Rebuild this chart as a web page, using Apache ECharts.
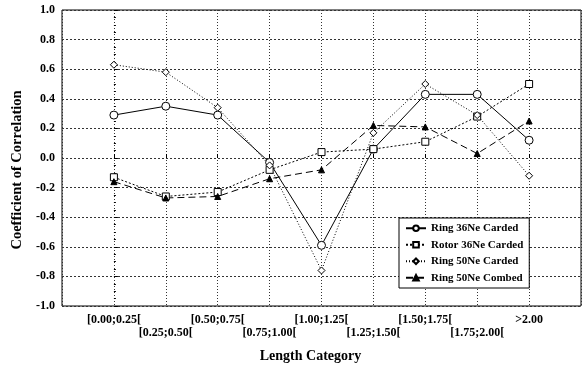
<!DOCTYPE html>
<html>
<head>
<meta charset="utf-8">
<script src="https://cdn.jsdelivr.net/npm/echarts@6/dist/echarts.min.js"></script>
<style>
  html, body { margin: 0; padding: 0; background: #fff; }
  #main { width: 586px; height: 368px; }
</style>
</head>
<body>
<div id="main"></div>
<script>
// categories and series
const categories = ['[0.00;0.25[', '[0.25;0.50[', '[0.50;0.75[', '[0.75;1.00[', '[1.00;1.25[',
  '[1.25;1.50[', '[1.50;1.75[', '[1.75;2.00[', '>2.00'];
const ring36Carded = [0.29, 0.35, 0.29, -0.03, -0.59, 0.06, 0.43, 0.43, 0.12];
const rotor36Carded = [-0.13, -0.26, -0.23, -0.08, 0.04, 0.06, 0.11, 0.28, 0.50];
const ring50Carded = [0.63, 0.58, 0.34, -0.05, -0.76, 0.17, 0.50, 0.29, -0.12];
const ring50Combed = [-0.16, -0.27, -0.26, -0.14, -0.08, 0.22, 0.21, 0.03, 0.25];
const yTicks = [-1.0, -0.8, -0.6, -0.4, -0.2, 0.0, 0.2, 0.4, 0.6, 0.8, 1.0];

const font = 'Liberation Serif';

function pts(arr) {
  return arr.map((v, i) => [i, v]);
}

function makeSeries(name, arr, symbol, size, fill, dash) {
  return {
    name: name,
    type: 'line',
    data: pts(arr),
    symbol: symbol,
    symbolSize: size,
    itemStyle: { color: fill, borderColor: '#000', borderWidth: 1 },
    lineStyle: { color: '#000', width: 1, type: dash },
    emphasis: { disabled: true },
    animation: false
  };
}

const myChart = echarts.init(document.getElementById('main'));

const option = {
  backgroundColor: '#fff',
  grid: {
    left: 62, right: 5, top: 10, bottom: 61,
    show: true, borderColor: '#000', borderWidth: 1
  },
  legend: {
    orient: 'vertical',
    left: 399, top: 218,
    backgroundColor: '#fff',
    borderColor: '#000',
    borderWidth: 1,
    padding: [4, 6, 4, 6],
    itemGap: 4,
    itemWidth: 20,
    itemHeight: 7,
    textStyle: { fontFamily: font, fontWeight: 'bold', fontSize: 11, color: '#000', lineHeight: 12.5 },
    data: ['Ring 36Ne Carded', 'Rotor 36Ne Carded', 'Ring 50Ne Carded', 'Ring 50Ne Combed']
  },
  xAxis: {
    type: 'value',
    min: -1, max: 9, interval: 1,
    name: 'Length Category',
    nameLocation: 'middle',
    nameGap: 43,
    nameTextStyle: { fontFamily: font, fontWeight: 'bold', fontSize: 14, color: '#000', padding: [0, 22, 0, 0] },
    axisLine: { show: false },
    axisTick: { show: true, inside: true, length: 4, lineStyle: { color: '#000' } },
    axisLabel: {
      fontFamily: font, fontWeight: 'bold', fontSize: 12, color: '#000',
      lineHeight: 13, margin: 7, showMinLabel: false, showMaxLabel: false,
      formatter: function (v) {
        const i = Math.round(v);
        if (i < 0 || i >= categories.length) return '';
        return i % 2 === 1 ? '\n' + categories[i] : categories[i];
      }
    },
    splitLine: { show: true, lineStyle: { color: '#333', type: [1, 2], width: 1 } }
  },
  yAxis: {
    type: 'value',
    min: yTicks[0], max: yTicks[yTicks.length - 1], interval: 0.2,
    name: 'Coefficient of Correlation',
    nameLocation: 'middle',
    nameGap: 33,
    nameTextStyle: { fontFamily: font, fontWeight: 'bold', fontSize: 14.5, color: '#000', padding: [0, 24, 0, 0] },
    axisLine: { show: false },
    axisTick: { show: true, inside: true, length: 4, lineStyle: { color: '#000' } },
    minorTick: { show: true, splitNumber: 4, length: 2, lineStyle: { color: '#000' } },
    axisLabel: {
      fontFamily: font, fontWeight: 'bold', fontSize: 12, color: '#000', margin: 7,
      formatter: v => v.toFixed(1)
    },
    splitLine: { show: true, lineStyle: { color: '#333', type: [2, 2], width: 1 } }
  },
  series: [
    makeSeries('Ring 36Ne Carded', ring36Carded, 'circle', 8, '#fff', 'solid'),
    makeSeries('Rotor 36Ne Carded', rotor36Carded, 'rect', 7, '#fff', [2, 2]),
    makeSeries('Ring 50Ne Carded', ring50Carded, 'diamond', 7, '#fff', [1, 2]),
    makeSeries('Ring 50Ne Combed', ring50Combed, 'triangle', 6, '#000', [7, 4])
  ]
};

myChart.setOption(option);
</script>
</body>
</html>
